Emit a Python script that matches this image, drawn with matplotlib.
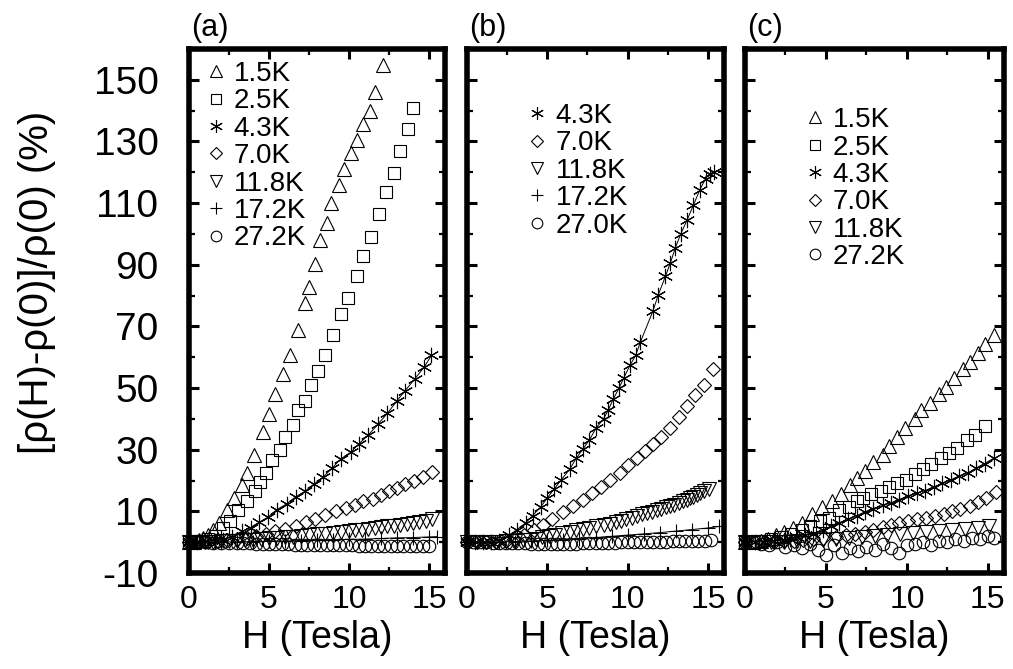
import matplotlib
matplotlib.use("Agg")
import matplotlib.pyplot as plt
from matplotlib.ticker import MultipleLocator

plt.rcParams['font.family'] = ['Liberation Sans', 'DejaVu Sans']
plt.rcParams['axes.unicode_minus'] = False

# ---------------- data: panel (a) ----------------
a_15_H = [0.0,0.3,0.6,0.9,1.2,1.5,1.9,2.35,2.8,3.3,3.6,4.05,4.65,5.0,5.4,5.9,6.3,6.8,7.25,7.5,7.85,8.2,8.6,8.9,9.35,9.7,10.1,10.5,10.9,11.3,11.6,12.1]
a_15_V = [0,0.2,0.6,1.3,2.3,3.8,6.2,10.3,14.4,18.4,22.5,28.3,35.8,41.6,48,54.4,60.8,68.9,77.6,82.8,90.3,97.9,103.7,110,115.9,121,126.3,130.4,135.6,140,146,154.7]
a_25_H = [0,0.4,0.8,1.2,1.6,2.1,2.55,3.06,3.6,4.1,4.45,4.8,5.2,5.67,6.0,6.53,6.84,7.24,7.65,8.06,8.5,9.0,9.5,9.96,10.5,10.9,11.4,11.9,12.3,12.8,13.2,13.7,14.0]
a_25_V = [0,0.1,0.4,0.9,2.0,4.5,6.8,10.3,13.2,16.7,19.5,22.5,26.5,30,34.1,38.1,42.8,45.7,51.1,55.5,60.8,67.1,74.1,79.3,86.3,92.7,99,106.6,113.5,119.9,126.9,133.9,140.8]
a_43_H = [0,0.5,1.0,1.6,2.1,2.7,3.3,3.85,4.4,4.96,5.5,6.1,6.67,7.25,7.8,8.4,8.96,9.5,10.1,10.6,11.2,11.8,12.4,13.0,13.5,14.1,14.7,15.15]
a_43_V = [0,0.1,0.3,0.5,0.8,1.8,3.5,4.7,6.5,8.2,10.6,12.4,14.7,16.5,18.8,21.2,24.1,27.1,29.1,31.8,34.7,38.2,41.8,45.9,49.1,52.9,56.8,60.6]
a_70_H = [0,0.6,1.2,1.8,2.4,3.0,3.6,4.2,4.8,5.4,6.0,6.7,7.3,7.9,8.5,9.2,9.8,10.4,10.9,11.5,12.0,12.5,13.0,13.5,14.06,14.6,15.2]
a_70_V = [0,0.1,0.2,0.4,0.6,1.0,1.5,2.0,2.7,3.5,4.4,5.3,6.5,7.6,8.8,10,11.2,12.1,13.2,14.1,15.3,16.5,17.6,18.8,20,21.2,22.9]
a_118_H = [0.0,0.5,1.0,1.5,2.0,2.5,3.0,3.5,4.0,4.5,5.0,5.5,6.0,6.5,7.0,7.5,8.0,8.5,9.0,9.5,10.0,10.4,10.8,11.2,11.6,12.0,12.4,12.8,13.2,13.6,14.0,14.4,14.8,15.2]
a_118_V = [0,0,0.1,0.2,0.3,0.4,0.5,0.7,0.8,1.0,1.2,1.4,1.6,1.8,2.0,2.2,2.5,2.7,3.0,3.2,3.5,3.8,4.0,4.3,4.6,4.8,5.1,5.4,5.7,6.0,6.3,6.6,7.0,7.4]
a_172_H = [0,1,2,3,4,5,6,7,8,9,10,11,12,13,14,15,15.5]
a_172_V = [0,0,0.1,0.1,0.2,0.3,0.4,0.5,0.6,0.7,0.9,1.0,1.2,1.4,1.5,1.7,1.8]
a_272_H = [0,0.5,1.0,1.5,2.0,2.5,3.0,3.4,3.8,4.2,4.6,5.0,5.4,5.8,6.2,6.6,7.0,7.4,7.8,8.2,8.6,9.0,9.4,9.8,10.2,10.6,11.0,11.4,11.8,12.2,12.6,13.0,13.4,13.8,14.2,14.6,15.0]
a_272_V = [0,0,-0.1,-0.2,-0.2,-0.3,-0.3,-0.4,-0.4,-0.5,-0.5,-0.6,-0.6,-0.7,-0.7,-0.8,-0.8,-0.8,-0.9,-0.9,-0.9,-1.0,-1.0,-1.0,-1.0,-1.1,-1.1,-1.1,-1.1,-1.2,-1.2,-1.2,-1.2,-1.2,-1.3,-1.3,-1.3]

# ---------------- data: panel (b) ----------------
b_43_H = [0,0.5,1.0,1.5,2.0,2.6,3.1,3.66,4.08,4.6,5.0,5.44,5.86,6.4,6.8,7.2,7.6,8.05,8.5,8.8,9.1,9.46,9.77,10.15,10.5,10.8,11.57,11.9,12.35,12.66,12.97,13.3,13.7,14.1,14.5,14.85,15.1,15.4]
b_43_V = [0,0,0.1,0.2,0.5,2.2,4,6.3,8.6,11.5,14.4,17.3,20.2,23.7,27.2,30.1,33,37.1,40,42.9,46.4,49.9,53.4,57.4,60.6,65,74.9,80.1,86.2,90.6,95.5,99.9,104.5,109.4,114.4,117.9,119.5,120.2]
b_70_H = [0,0.6,1.2,1.8,2.4,2.9,3.56,4.18,4.75,5.3,5.96,6.6,7.2,7.8,8.37,8.9,9.5,10.04,10.56,11.1,11.6,12.07,12.66,13.2,13.7,14.2,14.75,15.3]
b_70_V = [0,0,0.1,0.2,0.5,1,2.2,4,5.7,7.4,9.8,11.7,13.8,15.9,17.9,20.2,22.6,24.9,27.2,29.5,31.9,34.2,37.1,40.6,44.1,47.6,51,56.3]
b_118_H = [0,0.6,1.2,1.8,2.4,3.0,3.5,3.9,4.3,4.7,5.1,5.5,5.9,6.4,6.8,7.2,7.6,8.05,8.5,8.9,9.25,9.6,9.9,10.25,10.6,10.9,11.2,11.5,11.8,12.07,12.4,12.66,12.9,13.2,13.45,13.7,13.9,14.1,14.3,14.5,14.75,15.06]
b_118_V = [0,0,0.1,0.2,0.3,0.5,0.6,0.8,1.1,1.6,2.0,2.4,2.9,3.4,3.8,4.3,4.7,5.1,5.5,5.9,6.4,6.9,7.4,8,8.5,9,9.4,9.8,10.3,10.9,11.3,11.7,12.2,12.7,13.2,13.8,14.3,14.8,15.3,15.9,16.6,17.3]
b_172_H = [0,1,2,3,4,5,6,7,8,9,10,11,12,13,14,15,15.7]
b_172_V = [0,0,0.1,0.2,0.4,0.6,0.8,1.1,1.5,1.9,2.3,2.7,3.1,3.6,4.1,4.6,5.1]
b_270_H = [0,0.4,0.8,1.2,1.6,2.0,2.4,2.8,3.2,3.6,4.0,4.4,4.8,5.2,5.6,6.0,6.4,6.8,7.2,7.6,8.0,8.4,8.8,9.2,9.6,10.0,10.4,10.8,11.2,11.6,12.0,12.4,12.8,13.2,13.6,14.0,14.4,14.8,15.2]
b_270_V = [0,0,0,-0.1,-0.2,-0.2,-0.3,-0.3,-0.4,-0.4,-0.5,-0.5,-0.5,-0.6,-0.5,-0.6,-0.5,-0.5,-0.4,-0.4,-0.3,-0.3,-0.2,-0.2,-0.1,-0.1,0,0,0.1,0.1,0.2,0.2,0.3,0.3,0.4,0.4,0.5,0.5,0.6]

# ---------------- data: panel (c) ----------------
c_15_H = [0,0.5,1.0,1.4,1.9,2.4,2.97,3.5,4.13,4.77,5.4,5.9,6.46,6.9,7.4,7.9,8.5,8.9,9.4,9.9,10.5,10.9,11.4,11.97,12.4,12.9,13.45,13.9,14.4,14.8,15.36]
c_15_V = [0,0.2,0.5,1,2.2,3.4,4.5,6.3,9.2,11.5,13.3,15.6,18.5,20.8,23.1,26,28.4,31.3,34.2,37.1,40,42.9,45.2,48.1,50.5,53.4,56.3,58.6,61.5,64.4,67.3]
c_25_H = [0,0.5,1.0,1.6,2.2,2.86,3.5,4.0,4.66,5.2,5.8,6.4,6.9,7.3,7.8,8.4,8.9,9.4,9.96,10.5,11.0,11.5,12.1,12.6,13.1,13.7,14.2,14.8]
c_25_V = [0,0.1,0.4,1,1.6,2.8,4,5.1,6.9,8,10.3,11.5,13.3,14.4,15.6,16.7,17.9,19.1,20.2,22,23.7,25.5,27.2,29,30.7,33,34.8,37.7]
c_43_H = [0,0.6,1.2,1.8,2.4,2.8,3.2,3.7,4.2,4.8,5.3,5.8,6.36,6.9,7.4,7.9,8.5,9.0,9.5,10.06,10.6,11.1,11.65,12.2,12.7,13.2,13.8,14.3,14.8,15.36]
c_43_V = [0,0.1,0.2,0.4,0.7,1.1,1.6,2.2,2.8,4,5.1,6.3,7.4,8.6,9.8,10.9,11.9,12.7,13.8,15,15.9,16.7,17.9,19.1,20.2,21.4,22.6,24.1,25.5,27.2]
c_70_H = [0,0.6,1.2,1.8,2.4,3.0,3.6,4.2,4.8,5.6,6.25,6.8,7.4,7.9,8.5,9.0,9.5,10.06,10.6,11.2,11.76,12.3,12.8,13.3,13.9,14.4,14.9,15.5]
c_70_V = [0,0,0.1,0.2,0.3,0.5,0.7,1.0,1.3,1.6,2.2,2.8,3.4,4,4.8,5.5,6.3,6.9,7.4,8,8.6,9.2,10.1,10.9,11.7,12.9,14.4,16.2]
c_118_H = [0,0.8,1.6,2.4,3.2,4.0,4.8,5.6,6.4,7.2,8.0,8.8,9.6,10.4,11.2,12.0,12.8,13.6,14.4,15.1]
c_118_V = [0,0,0.1,0.2,0.3,0.5,0.7,1.0,1.3,1.6,1.9,2.3,2.6,2.9,3.2,3.5,3.9,4.3,4.7,5.1]
c_272_H = [0,0.5,1.0,1.5,2.0,2.5,3.0,3.5,4.0,4.5,5.0,5.5,6.0,6.5,7.0,7.5,8.0,8.5,9.0,9.5,10.0,10.5,11.0,11.5,12.0,12.5,13.0,13.5,14.0,14.5,15.0,15.4]
c_272_V = [0,0,-0.5,-1,0,-1.5,-1,-2,-0.5,-2.5,-4,-1,-3.5,-2,-3,-1.5,-2.5,-0.5,-2,-3.5,-1,-0.5,0,-1,0.5,0,1,0.5,1.5,1,2,1.5]

panel_tags = ["(a)", "(b)", "(c)"]
y_ticks = [-10, 10, 30, 50, 70, 90, 110, 130, 150]
x_ticks = [0, 5, 10, 15]
x_label = "H (Tesla)"
y_label = "[\u03c1(H)-\u03c1(0)]/\u03c1(0) (%)"

STY = {
    "1.5K": dict(marker="^", ms=10),
    "2.5K": dict(marker="s", ms=8.5),
    "4.3K": dict(marker=(6, 2, 0), ms=11),
    "7.0K": dict(marker="D", ms=7.5),
    "11.8K": dict(marker="v", ms=10),
    "17.2K": dict(marker="+", ms=10),
    "27.2K": dict(marker="o", ms=9),
    "27.0K": dict(marker="o", ms=9),
}

panels = [
    [("1.5K", a_15_H, a_15_V), ("2.5K", a_25_H, a_25_V), ("4.3K", a_43_H, a_43_V),
     ("7.0K", a_70_H, a_70_V), ("11.8K", a_118_H, a_118_V), ("17.2K", a_172_H, a_172_V),
     ("27.2K", a_272_H, a_272_V)],
    [("4.3K", b_43_H, b_43_V), ("7.0K", b_70_H, b_70_V), ("11.8K", b_118_H, b_118_V),
     ("17.2K", b_172_H, b_172_V), ("27.0K", b_270_H, b_270_V)],
    [("1.5K", c_15_H, c_15_V), ("2.5K", c_25_H, c_25_V), ("4.3K", c_43_H, c_43_V),
     ("7.0K", c_70_H, c_70_V), ("11.8K", c_118_H, c_118_V), ("27.2K", c_272_H, c_272_V)],
]
lined = {"4.3K", "17.2K"}

W, Hpx = 1013, 669
fig = plt.figure(figsize=(W / 100, Hpx / 100), dpi=100)
lefts = [189, 467, 745]
rights = [445, 724, 1004]
top_px, bot_px = 49, 573
leg_anchor = [(0.05, 0.977), (0.22, 0.897), (0.215, 0.889)]

for i in range(3):
    ax = fig.add_axes([lefts[i] / W, 1 - bot_px / Hpx, (rights[i] - lefts[i]) / W, (bot_px - top_px) / Hpx])
    for lab, hx, vy in panels[i]:
        st = STY[lab]
        if lab in lined:
            ax.plot(hx, vy, color="black", lw=0.7, zorder=2)
        ax.plot(hx, vy, linestyle="none", marker=st["marker"], markersize=st["ms"],
                markerfacecolor="none", markeredgecolor="black", markeredgewidth=0.8,
                color="black", label=lab, zorder=3, clip_on=False)
    ax.set_xlim(0, 16)
    ax.set_ylim(-10, 160)
    ax.set_xticks(x_ticks)
    ax.xaxis.set_minor_locator(MultipleLocator(2.5))
    ax.set_yticks(y_ticks)
    ax.set_yticks([0, 20, 40, 60, 80, 100, 120, 140, 160], minor=True)
    ax.tick_params(which="both", direction="in", top=True, right=True)
    ax.tick_params(which="major", length=7, width=2.2)
    ax.tick_params(which="minor", length=4, width=1.6)
    ax.tick_params(axis="x", which="major", labelsize=23, pad=9)
    ax.tick_params(axis="y", which="major", labelsize=28, pad=22)
    if i > 0:
        ax.set_yticklabels([])
    else:
        ax.set_ylabel(y_label, fontsize=29)
        ax.yaxis.set_label_coords(-0.52, 0.555)
    ax.set_xlabel(x_label, fontsize=27, labelpad=3)
    for sp in ax.spines.values():
        sp.set_linewidth(4)
    ax.text(0.01, 1.012, panel_tags[i], transform=ax.transAxes, fontsize=22,
            ha="left", va="bottom")
    ax.legend(loc="upper left", bbox_to_anchor=leg_anchor[i], frameon=False, fontsize=20,
              handlelength=1.0, handletextpad=0.15, labelspacing=0.05, borderpad=0,
              borderaxespad=0, markerscale=0.85)

fig.savefig("out.png", dpi=100)
